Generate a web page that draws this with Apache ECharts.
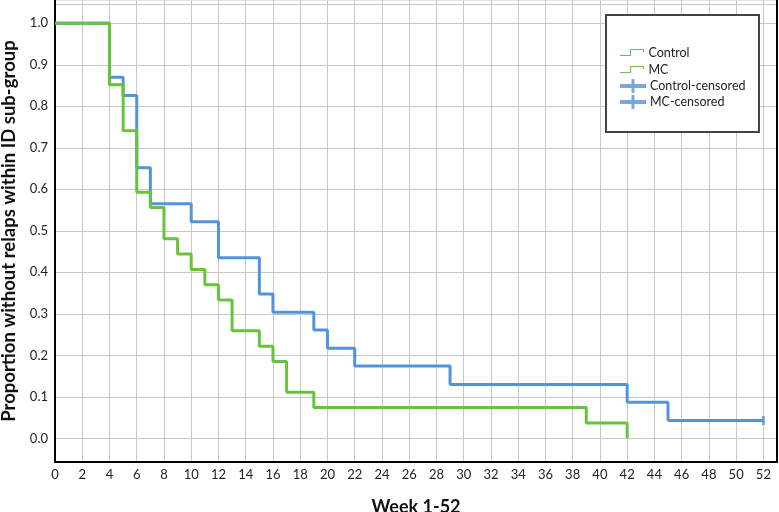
<!DOCTYPE html>
<html>
<head>
<meta charset="utf-8">
<script src="https://cdn.jsdelivr.net/npm/echarts@6/dist/echarts.min.js"></script>
<style>
  html, body { margin: 0; padding: 0; background: #fff; }
  #chart { width: 779px; height: 512px; }
</style>
</head>
<body>
<div id="chart"></div>
<script>
// 周数刻度
var xTicks = [0, 2, 4, 6, 8, 10, 12, 14, 16, 18, 20, 22, 24, 26, 28, 30, 32, 34, 36, 38, 40, 42, 44, 46, 48, 50, 52];
var yTicks = [0, 0.1, 0.2, 0.3, 0.4, 0.5, 0.6, 0.7, 0.8, 0.9, 1.0];
var yGridExtra = [1.046];

// Control 组 (week, proportion)
var controlWeeks = [0, 4, 5, 6, 7, 10, 12, 15, 16, 19, 20, 22, 29, 42, 45, 52];
var controlValues = [1.0, 0.870, 0.826, 0.652, 0.565, 0.522, 0.435, 0.348, 0.304, 0.261, 0.217, 0.174, 0.130, 0.087, 0.043, 0.043];

// MC 组
var mcWeeks = [0, 4, 5, 6, 7, 8, 9, 10, 11, 12, 13, 15, 16, 17, 19, 39, 42];
var mcValues = [1.0, 0.852, 0.741, 0.593, 0.556, 0.481, 0.444, 0.407, 0.370, 0.333, 0.259, 0.222, 0.185, 0.111, 0.074, 0.037, 0];

// 删失点
var controlCensoredWeeks = [52];
var controlCensoredValues = [0.043];
var mcCensoredWeeks = [];
var mcCensoredValues = [];

function pairs(xs, ys) {
  return xs.map(function (x, i) { return [x, ys[i]]; });
}

var blue = "#5294d8";
var green = "#66c43c";
var font = "Lato";

var stepIcon = "path://M0,6 H10 V0 H24 V3 H23 V1 H11 V7 H0 Z";
var crossIcon = "path://M0,5 H11.5 V0 H14.5 V5 H26 V9 H14.5 V14 H11.5 V9 H0 Z";

function legendItem(name, top, icon, w, h, color) {
  return {
    data: [{ name: name, icon: icon, itemStyle: { color: color, borderWidth: 0 } }],
    left: 620,
    top: top,
    padding: 0,
    itemWidth: w,
    itemHeight: h,
    itemGap: 0,
    selectedMode: false,
    z: 10,
    textStyle: { fontFamily: font, fontSize: 12.5, color: "#222", padding: [0, 0, 0, -1] }
  };
}

var chart = echarts.init(document.getElementById("chart"));
var option = {
  animation: false,
  backgroundColor: "#fff",
  grid: {
    left: 55,
    right: 2,
    top: 0,
    bottom: 50,
    outerBoundsMode: "none",
    containLabel: false,
    show: true,
    borderColor: "#c8c8c8",
    borderWidth: 1
  },
  legend: [
    legendItem("Control", 46, stepIcon, 25, 7, "#6aa6de"),
    legendItem("MC", 63, stepIcon, 25, 7, "#6cc648"),
    legendItem("Control-censored", 79, crossIcon, 26, 14, blue),
    legendItem("MC-censored", 95, crossIcon, 26, 14, blue)
  ],
  graphic: [
    {
      type: "rect",
      z: 5,
      shape: { x: 606, y: 15, width: 153, height: 117 },
      style: { fill: "#fff", stroke: "#444", lineWidth: 2 }
    }
  ],
  xAxis: {
    type: "value",
    min: 0,
    max: 53,
    name: "Week 1-52",
    nameLocation: "middle",
    nameGap: 36,
    nameTextStyle: { fontFamily: font, fontSize: 18, fontWeight: "bold", color: "#111" },
    axisLine: { onZero: false, lineStyle: { color: "#000", width: 2 } },
    axisTick: { show: false, customValues: xTicks },
    axisLabel: { customValues: xTicks, fontFamily: font, fontSize: 13, color: "#222", margin: 6 },
    splitLine: { lineStyle: { color: "#c8c8c8", width: 1 } }
  },
  yAxis: [
    {
      type: "value",
      min: -0.057,
      max: 1.056,
      name: "Proportion without relaps within ID sub-group",
      nameLocation: "middle",
      nameGap: 35,
      nameTextStyle: { fontFamily: font, fontSize: 18.5, fontWeight: "bold", color: "#111" },
      axisLine: { show: true, onZero: false, lineStyle: { color: "#000", width: 2 } },
      axisTick: { show: false, customValues: yTicks.concat(yGridExtra) },
      axisLabel: {
        customValues: yTicks,
        fontFamily: font,
        fontSize: 13,
        color: "#222",
        margin: 7,
        formatter: function (v) { return v.toFixed(1); }
      },
      splitLine: { lineStyle: { color: "#c8c8c8", width: 1 } }
    },
    {
      type: "value",
      position: "right",
      min: -0.057,
      max: 1.056,
      axisLine: { show: true, onZero: false, lineStyle: { color: "#000", width: 2 } },
      axisTick: { show: false },
      axisLabel: { show: false },
      splitLine: { show: false }
    }
  ],
  series: [
    {
      name: "Control",
      type: "line",
      step: "end",
      showSymbol: false,
      symbol: "none",
      data: pairs(controlWeeks, controlValues),
      lineStyle: { color: blue, width: 3 },
      itemStyle: { color: blue },
      z: 2
    },
    {
      name: "MC",
      type: "line",
      step: "end",
      showSymbol: false,
      symbol: "none",
      data: pairs(mcWeeks, mcValues),
      lineStyle: { color: green, width: 3 },
      itemStyle: { color: green },
      z: 3
    },
    {
      name: "Control-censored",
      type: "scatter",
      symbol: "rect",
      symbolSize: [3, 9],
      data: pairs(controlCensoredWeeks, controlCensoredValues),
      itemStyle: { color: blue },
      z: 4
    },
    {
      name: "MC-censored",
      type: "scatter",
      symbol: "rect",
      symbolSize: [3, 9],
      data: pairs(mcCensoredWeeks, mcCensoredValues),
      itemStyle: { color: blue },
      z: 4
    }
  ]
};
chart.setOption(option);
</script>
</body>
</html>
